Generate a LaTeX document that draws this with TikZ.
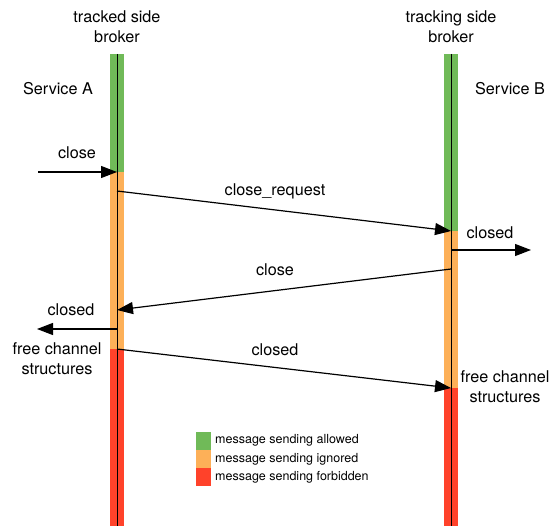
\documentclass[tikz,border=0pt]{standalone}
\usepackage{fontspec}
\setmainfont{TeX Gyre Heros}
\usetikzlibrary{arrows.meta}
\definecolor{allowgreen}{RGB}{112,186,88}
\definecolor{ignoreorange}{RGB}{253,176,88}
\definecolor{forbidred}{RGB}{255,66,42}
\tikzset{
  lbl/.style={font=\fontsize{16.2}{20}\selectfont, inner sep=0pt, align=center},
  legtxt/.style={font=\fontsize{12.5}{14}\selectfont, inner sep=0pt, anchor=west},
  msg/.style={line width=1.2pt, -{Triangle[length=16pt,width=12pt]}},
  lifeline/.style={line width=1pt},
  legbox/.style={minimum width=15pt, minimum height=18pt, inner sep=0pt, draw=none},
}
\begin{document}
\begin{tikzpicture}[x=1pt,y=-1pt]
\useasboundingbox (0,0) rectangle (554,527);
% tracked side broker state bar
\fill[allowgreen]  (110,54)  rectangle (124,172);
\fill[ignoreorange](110,172) rectangle (124,349);
\fill[forbidred]   (110,349) rectangle (124,526);
% tracking side broker state bar
\fill[allowgreen]  (444,54)  rectangle (458,231);
\fill[ignoreorange](444,231) rectangle (458,388);
\fill[forbidred]   (444,388) rectangle (458,526);
% lifelines
\coordinate (Ltop) at (117,54);
\coordinate (Lbot) at (117,526);
\coordinate (Rtop) at (451,54);
\coordinate (Rbot) at (451,526);
\draw[lifeline] (Ltop) -- (Lbot);
\draw[lifeline] (Rtop) -- (Rbot);
% headings
\node[lbl] (hA) at (117,27) {tracked side\\broker};
\node[lbl] (hB) at (451,27) {tracking side\\broker};
\node[lbl] (sA) at (58,89) {Service A};
\node[lbl] (sB) at (510,89) {Service B};
% message end points
\coordinate (cin)  at (38,172);
\coordinate (L1)   at (117,172);
\coordinate (L2)   at (117,191);
\coordinate (R2)   at (451,231);
\coordinate (R3)   at (451,250);
\coordinate (cout) at (531,250);
\coordinate (R4)   at (451,269);
\coordinate (L4)   at (117,310);
\coordinate (L5)   at (117,329);
\coordinate (dout) at (37,329);
\coordinate (L6)   at (117,349);
\coordinate (R6)   at (451,388);
% messages
\draw[msg] (cin) -- (L1);
\draw[msg] (L2) -- (R2);
\draw[msg] (R3) -- (cout);
\draw[msg] (R4) -- (L4);
\draw[msg] (L5) -- (dout);
\draw[msg] (L6) -- (R6);
% message labels
\node[lbl] (m1) at (77,153) {close};
\node[lbl] (m2) at (275,191) {close\_request};
\node[lbl] (m3) at (490,233) {closed};
\node[lbl] (m4) at (275,270) {close};
\node[lbl] (m5) at (71,310) {closed};
\node[lbl] (m6) at (275,350) {closed};
\node[lbl] (fA) at (57,359) {free channel\\structures};
\node[lbl] (fB) at (505,387) {free channel\\structures};
% legend
\node[legbox, fill=allowgreen]   (k1) at (203.5,441) {};
\node[legbox, fill=ignoreorange] (k2) at (203.5,459) {};
\node[legbox, fill=forbidred]    (k3) at (203.5,477) {};
\node[legtxt] (t1) at (215,440.5) {message sending allowed};
\node[legtxt] (t2) at (215,459) {message sending ignored};
\node[legtxt] (t3) at (215,477) {message sending forbidden};
\end{tikzpicture}
\end{document}
